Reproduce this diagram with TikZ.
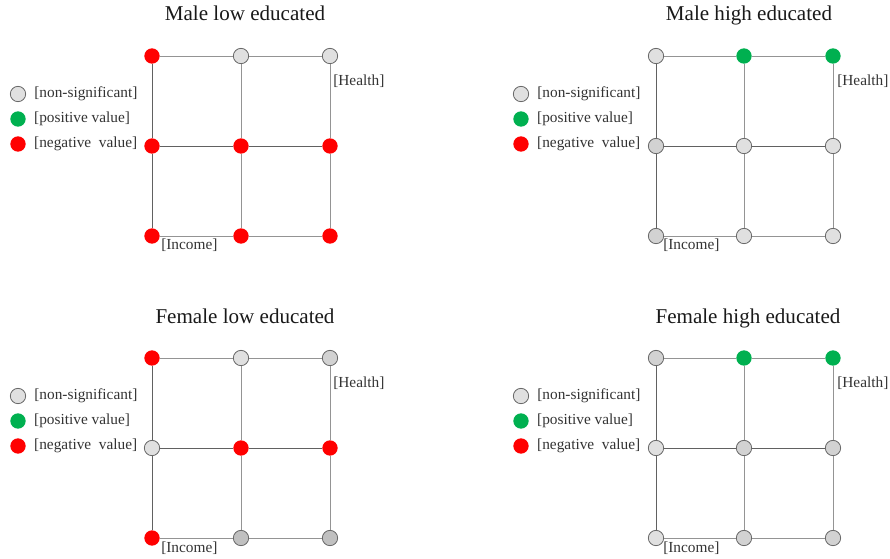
\documentclass[tikz,border=0pt]{standalone}
\usepackage{fontspec}
\setmainfont{Liberation Serif}
\usetikzlibrary{positioning}
\definecolor{posgreen}{RGB}{0,176,80}
\definecolor{nsgrey}{RGB}{224,224,224}
\definecolor{nsdark}{RGB}{210,210,210}
\definecolor{nsdarker}{RGB}{192,192,192}
\definecolor{rimgrey}{RGB}{105,105,105}
\tikzset{
	dot/.style={circle, minimum size=11.5pt, inner sep=0pt},
	nsdot/.style={dot, draw=rimgrey, fill=nsgrey, line width=0.6pt},
	nsddot/.style={nsdot, fill=nsdark},
	nsdddot/.style={nsdot, fill=nsdarker},
	posdot/.style={dot, fill=posgreen},
	negdot/.style={dot, fill=red},
	gridline/.style={draw=black!42, line width=0.75pt},
	darkline/.style={draw=black!62, line width=0.75pt},
	paneltitle/.style={font=\fontsize{15.8}{19}\selectfont, text=black!90, anchor=base, inner sep=0pt},
	lab/.style={font=\fontsize{11.5}{13}\selectfont, inner sep=0pt, text=black!80},
}

\begin{document}
\begin{tikzpicture}[x=0.75pt, y=-0.75pt]
		%%%%% START %%%%%
		\useasboundingbox (0, 0) rectangle (890, 558);
		
		% Male low educated
		\node[paneltitle] (mltitle) at (245, 20) {Male low educated};
		\node[nsdot] (mlk1) at (18, 94) {};
		\node[posdot] (mlk2) at (18, 119) {};
		\node[negdot] (mlk3) at (18, 144) {};
		\node[lab, right=6pt of mlk1] (mlt1) {[non-significant]};
		\node[lab, right=6pt of mlk2] (mlt2) {[positive value]};
		\node[lab, right=6pt of mlk3] (mlt3) {[negative\ \ value]};
		\node[negdot] (ml11) at (152, 56) {};
		\node[nsdot] (ml12) at (241, 56) {};
		\node[nsdot] (ml13) at (330, 56) {};
		\node[negdot] (ml21) at (152, 146) {};
		\node[negdot] (ml22) at (241, 146) {};
		\node[negdot] (ml23) at (330, 146) {};
		\node[negdot] (ml31) at (152, 236) {};
		\node[negdot] (ml32) at (241, 236) {};
		\node[negdot] (ml33) at (330, 236) {};
		\draw[gridline] (ml11) -- (ml12) -- (ml13) -- (ml23) -- (ml33) -- (ml32) -- (ml31)
			(ml12) -- (ml22) -- (ml32);
		\draw[darkline] (ml11) -- (ml21) -- (ml31) (ml21) -- (ml22) -- (ml23);
		\node[lab, anchor=west] (mlhealth) at (333, 81) {[Health]};
		\node[lab, anchor=west] (mlincome) at (161, 245) {[Income]};
		
		% Male high educated
		\begin{scope}[shift={(504, 0)}]
		\node[paneltitle] (mhtitle) at (245, 20) {Male high educated};
		\node[nsdot] (mhk1) at (17, 94) {};
		\node[posdot] (mhk2) at (17, 119) {};
		\node[negdot] (mhk3) at (17, 144) {};
		\node[lab, right=6pt of mhk1] (mht1) {[non-significant]};
		\node[lab, right=6pt of mhk2] (mht2) {[positive value]};
		\node[lab, right=6pt of mhk3] (mht3) {[negative\ \ value]};
		\node[nsdot] (mh11) at (152, 56) {};
		\node[posdot] (mh12) at (240, 56) {};
		\node[posdot] (mh13) at (329, 56) {};
		\node[nsddot] (mh21) at (152, 146) {};
		\node[nsdot] (mh22) at (240, 146) {};
		\node[nsdot] (mh23) at (329, 146) {};
		\node[nsddot] (mh31) at (152, 236) {};
		\node[nsdot] (mh32) at (240, 236) {};
		\node[nsdot] (mh33) at (329, 236) {};
		\draw[gridline] (mh11) -- (mh12) -- (mh13) -- (mh23) -- (mh33) -- (mh32) -- (mh31)
			(mh12) -- (mh22) -- (mh32);
		\draw[darkline] (mh11) -- (mh21) -- (mh31) (mh21) -- (mh22) -- (mh23);
		\node[lab, anchor=west] (mhhealth) at (333, 81) {[Health]};
		\node[lab, anchor=west] (mhincome) at (159, 245) {[Income]};
		\end{scope}
		
		% Female low educated
		\begin{scope}[shift={(0, 302)}]
		\node[paneltitle] (fltitle) at (245, 21) {Female low educated};
		\node[nsdot] (flk1) at (18, 94) {};
		\node[posdot] (flk2) at (18, 119) {};
		\node[negdot] (flk3) at (18, 144) {};
		\node[lab, right=6pt of flk1] (flt1) {[non-significant]};
		\node[lab, right=6pt of flk2] (flt2) {[positive value]};
		\node[lab, right=6pt of flk3] (flt3) {[negative\ \ value]};
		\node[negdot] (fl11) at (152, 56) {};
		\node[nsdot] (fl12) at (241, 56) {};
		\node[nsddot] (fl13) at (330, 56) {};
		\node[nsdot] (fl21) at (152, 146) {};
		\node[negdot] (fl22) at (241, 146) {};
		\node[negdot] (fl23) at (330, 146) {};
		\node[negdot] (fl31) at (152, 236) {};
		\node[nsdddot] (fl32) at (241, 236) {};
		\node[nsdddot] (fl33) at (330, 236) {};
		\draw[gridline] (fl11) -- (fl12) -- (fl13) -- (fl23) -- (fl33) -- (fl32) -- (fl31)
			(fl12) -- (fl22) -- (fl32);
		\draw[darkline] (fl11) -- (fl21) -- (fl31) (fl21) -- (fl22) -- (fl23);
		\node[lab, anchor=west] (flhealth) at (333, 81) {[Health]};
		\node[lab, anchor=west] (flincome) at (161, 246) {[Income]};
		\end{scope}
		
		% Female high educated
		\begin{scope}[shift={(504, 302)}]
		\node[paneltitle] (fhtitle) at (244, 21) {Female high educated};
		\node[nsdot] (fhk1) at (17, 94) {};
		\node[posdot] (fhk2) at (17, 119) {};
		\node[negdot] (fhk3) at (17, 144) {};
		\node[lab, right=6pt of fhk1] (fht1) {[non-significant]};
		\node[lab, right=6pt of fhk2] (fht2) {[positive value]};
		\node[lab, right=6pt of fhk3] (fht3) {[negative\ \ value]};
		\node[nsddot] (fh11) at (152, 56) {};
		\node[posdot] (fh12) at (240, 56) {};
		\node[posdot] (fh13) at (329, 56) {};
		\node[nsdot] (fh21) at (152, 146) {};
		\node[nsddot] (fh22) at (240, 146) {};
		\node[nsddot] (fh23) at (329, 146) {};
		\node[nsdot] (fh31) at (152, 236) {};
		\node[nsddot] (fh32) at (240, 236) {};
		\node[nsddot] (fh33) at (329, 236) {};
		\draw[gridline] (fh11) -- (fh12) -- (fh13) -- (fh23) -- (fh33) -- (fh32) -- (fh31)
			(fh12) -- (fh22) -- (fh32);
		\draw[darkline] (fh11) -- (fh21) -- (fh31) (fh21) -- (fh22) -- (fh23);
		\node[lab, anchor=west] (fhhealth) at (333, 81) {[Health]};
		\node[lab, anchor=west] (fhincome) at (159, 246) {[Income]};
		\end{scope}
		
		%%%%% END %%%%%
	\end{tikzpicture}
\end{document}
